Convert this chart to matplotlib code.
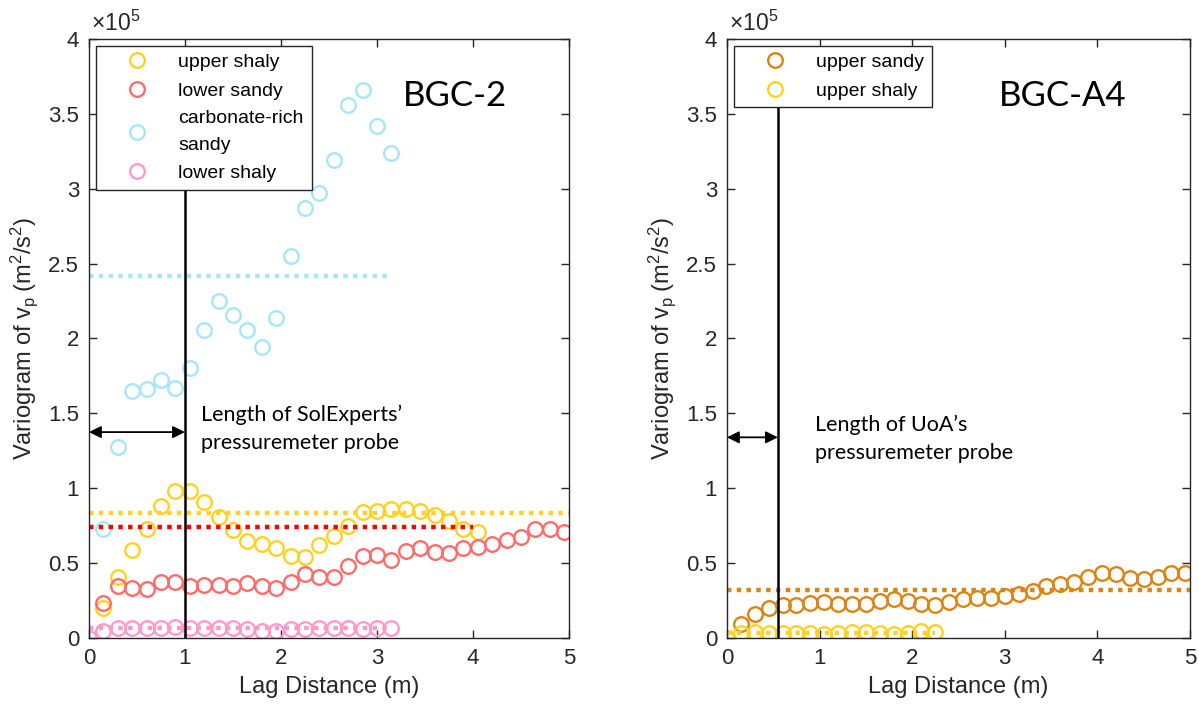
import matplotlib
matplotlib.use('Agg')
import matplotlib.pyplot as plt

plt.rcParams['font.family'] = ['Liberation Sans', 'DejaVu Sans']
plt.rcParams['mathtext.fontset'] = 'custom'
plt.rcParams['mathtext.rm'] = 'Liberation Sans'
plt.rcParams['mathtext.it'] = 'Liberation Sans:italic'
plt.rcParams['mathtext.sf'] = 'Liberation Sans'

# lag distances (m), 0.15 m bins
lags = [0.00, 0.15, 0.30, 0.45, 0.60, 0.75, 0.90, 1.05, 1.20, 1.35, 1.50, 1.65,
        1.80, 1.95, 2.10, 2.25, 2.40, 2.55, 2.70, 2.85, 3.00, 3.15, 3.30, 3.45,
        3.60, 3.75, 3.90, 4.05, 4.20, 4.35, 4.50, 4.65, 4.80, 4.95]

# BGC-2 variograms (x 1e5 m^2/s^2)
bgc2_upper_shaly = [0.20, 0.41, 0.59, 0.73, 0.88, 0.98, 0.98, 0.91, 0.81, 0.72,
                    0.65, 0.63, 0.60, 0.55, 0.54, 0.62, 0.68, 0.75, 0.84, 0.85,
                    0.86, 0.86, 0.85, 0.82, 0.78, 0.73, 0.71]
bgc2_lower_sandy = [0.235, 0.35, 0.335, 0.325, 0.375, 0.375, 0.345, 0.355, 0.355,
                    0.35, 0.365, 0.35, 0.335, 0.375, 0.43, 0.41, 0.41, 0.48, 0.545,
                    0.555, 0.52, 0.58, 0.60, 0.575, 0.565, 0.60, 0.61, 0.625, 0.655,
                    0.675, 0.725, 0.73, 0.71]
bgc2_carb_sandy = [0.725, 1.276, 1.65, 1.66, 1.72, 1.67, 1.80, 2.06, 2.25, 2.16,
                   2.06, 1.94, 2.14, 2.55, 2.87, 2.97, 3.19, 3.56, 3.66, 3.42, 3.24]
bgc2_lower_shaly = [0.0, 0.045, 0.065, 0.065, 0.07, 0.07, 0.075, 0.065, 0.065, 0.065,
                    0.065, 0.06, 0.045, 0.05, 0.06, 0.06, 0.065, 0.065, 0.065, 0.06,
                    0.065, 0.065]
# sills: (value, end of line in m)
bgc2_sills = {'upper shaly': (0.837, 5.0), 'lower sandy': (0.743, 4.0),
              'carbonate-rich\nsandy': (2.42, 3.15), 'lower shaly': (0.07, 3.15)}

# BGC-A4 variograms
a4_upper_sandy = [0.0, 0.094, 0.158, 0.199, 0.221, 0.221, 0.232, 0.241, 0.228, 0.228,
                  0.228, 0.25, 0.263, 0.25, 0.228, 0.223, 0.241, 0.263, 0.27, 0.268,
                  0.283, 0.294, 0.317, 0.348, 0.361, 0.377, 0.408, 0.435, 0.428,
                  0.40, 0.397, 0.41, 0.437, 0.435]
a4_upper_shaly = [0.0, 0.031, 0.042, 0.036, 0.031, 0.031, 0.031, 0.025, 0.031,
                  0.038, 0.042, 0.036, 0.027, 0.031, 0.049, 0.038]
a4_sills = {'upper sandy': (0.321, 5.0), 'upper shaly': (0.031, 2.25)}

yellow = '#FFD21F'
red_m = '#FF6B6B'
red_l = '#FF0000'
blue = '#A6E6FA'
pink = '#FF99CC'
orange = '#DD8410'
axcol = '#262626'

fig = plt.figure(figsize=(11.99, 7.13), dpi=100)
ax1 = fig.add_axes([0.0742, 0.1052, 0.4003, 0.8401])
ax2 = fig.add_axes([0.6063, 0.1052, 0.3862, 0.8401])

mk = dict(marker='o', linestyle='none', markersize=10.5, markerfacecolor='none',
          markeredgewidth=1.7)
dot = dict(linestyle=(0, (1, 1.2)), linewidth=3.2, dash_capstyle='butt')


def style_axes(ax):
    ax.set_xlim(0, 5)
    ax.set_ylim(0, 4)
    ax.set_xticks([0, 1, 2, 3, 4, 5])
    ax.set_yticks([0, 0.5, 1, 1.5, 2, 2.5, 3, 3.5, 4])
    ax.set_yticklabels(['0', '0.5', '1', '1.5', '2', '2.5', '3', '3.5', '4'])
    ax.tick_params(direction='in', length=6, width=1, top=True, right=True,
                   labelsize=16, colors=axcol, pad=7)
    for s in ax.spines.values():
        s.set_color(axcol)
        s.set_linewidth(1.0)
    ax.set_xlabel('Lag Distance (m)', fontsize=17, color=axcol, labelpad=5)
    ax.set_ylabel('Variogram of v$_{\\mathregular{p}}$\u2009(m$^{\\mathregular{2}}$/s$^{\\mathregular{2}}$)',
                  fontsize=17, color=axcol, labelpad=6)
    ax.text(0.005, 1.006, '$\\times$10$^{\\mathregular{5}}$', transform=ax.transAxes,
            fontsize=16.5, color=axcol, ha='left', va='bottom')


def add_legend(ax):
    leg = ax.legend(loc='upper left', fontsize=14, frameon=True, fancybox=False,
                    edgecolor=axcol, framealpha=1, borderaxespad=0.35,
                    handlelength=3.4, handletextpad=0.45, labelspacing=0.55,
                    borderpad=0.4)
    leg.get_frame().set_linewidth(1.0)
    for t in leg.get_texts():
        t.set_linespacing(1.75)
    return leg


# ---- BGC-2 ----
ax = ax1
n = len(bgc2_upper_shaly)
ax.plot(lags[1:n + 1], bgc2_upper_shaly, color=yellow, label='upper shaly', **mk)
n = len(bgc2_lower_sandy)
ax.plot(lags[1:n + 1], bgc2_lower_sandy, color=red_m, label='lower sandy', **mk)
n = len(bgc2_carb_sandy)
ax.plot(lags[1:n + 1], bgc2_carb_sandy, color=blue, label='carbonate-rich\nsandy', **mk)
n = len(bgc2_lower_shaly)
ax.plot(lags[:n], bgc2_lower_shaly, color=pink, label='lower shaly', **mk)

for (name, (val, xend)), c in zip(bgc2_sills.items(), [yellow, red_l, blue, pink]):
    ax.plot([0, xend], [val, val], color=c, **dot)

ax.plot([1.0, 1.0], [0, 3.03], color='black', linewidth=1.8, zorder=5)
ax.annotate('', xy=(0, 1.375), xytext=(1.0, 1.375),
            arrowprops=dict(arrowstyle='<|-|>', color='black', lw=1.3,
                            mutation_scale=18, shrinkA=0, shrinkB=0))
ax.text(1.17, 1.40, 'Length of SolExperts\u2019\npressuremeter probe',
        fontsize=15.5, family='Lato', ha='left', va='center', linespacing=1.5)
ax.text(3.81, 3.62, 'BGC-2', fontsize=25, family='Lato', ha='center', va='center')
style_axes(ax)
add_legend(ax)

# ---- BGC-A4 ----
ax = ax2
n = len(a4_upper_sandy)
ax.plot(lags[:n], a4_upper_sandy, color=orange, label='upper sandy', **mk)
n = len(a4_upper_shaly)
ax.plot(lags[:n], a4_upper_shaly, color=yellow, label='upper shaly', **mk)
for (name, (val, xend)), c in zip(a4_sills.items(), [orange, yellow]):
    ax.plot([0, xend], [val, val], color=c, **dot)

ax.plot([0.55, 0.55], [0, 3.57], color='black', linewidth=1.8, zorder=5)
ax.annotate('', xy=(0, 1.34), xytext=(0.55, 1.34),
            arrowprops=dict(arrowstyle='<|-|>', color='black', lw=1.3,
                            mutation_scale=18, shrinkA=0, shrinkB=0))
ax.text(0.95, 1.33, 'Length of UoA\u2019s\npressuremeter probe',
        fontsize=15.5, family='Lato', ha='left', va='center', linespacing=1.5)
ax.text(3.63, 3.62, 'BGC-A4', fontsize=25, family='Lato', ha='center', va='center')
style_axes(ax)
add_legend(ax)

fig.savefig('out.png', dpi=100)
